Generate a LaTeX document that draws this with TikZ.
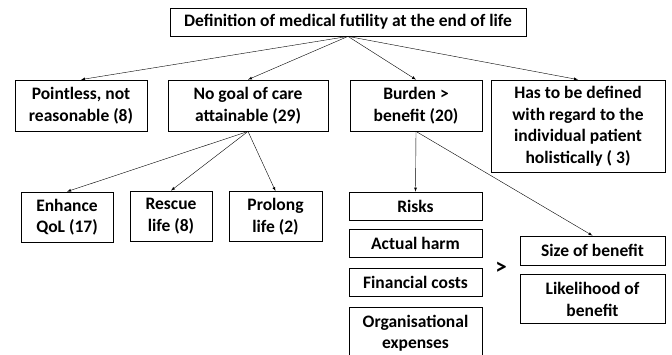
\documentclass[tikz,border=0pt]{standalone}
\usepackage{fontspec}
\setmainfont{Carlito}
\usetikzlibrary{positioning}
\usetikzlibrary{arrows}

\begin{document}
\begin{tikzpicture}[x=1pt,y=-1pt,>=latex,
    basic/.style={draw,line width=0.8pt,align=center,inner sep=0pt,
        font=\fontsize{17.5}{21.5}\selectfont\bfseries},
    headbox/.style={basic,minimum width=356pt,minimum height=28pt},
    reason/.style={basic,minimum height=51pt},
    goal/.style={basic,minimum height=50pt},
    cost/.style={basic,minimum width=133pt,minimum height=28pt},
    gain/.style={basic,minimum width=145pt},
]
        \useasboundingbox (0,0) rectangle (672,354);
        \node[headbox] (def) at (348,22) {Definition of medical futility at the end of life};
        % reasons
        \node[reason,minimum width=132pt] (pointless) at (81,105.5) {Pointless, not\\reasonable (8)};
        \node[reason,minimum width=160pt] (nogoal) at (248,105.5) {No goal of care\\attainable (29)};
        \node[reason,minimum width=132pt] (burden) at (416,105.5) {Burden >\\benefit (20)};
        \node[basic,minimum width=174pt,minimum height=92pt] (holistic) at (578,126) {Has to be defined\\with regard to the\\individual patient\\holistically ( 3)};
            \path[draw,->] (def.south) -- (pointless.north);
            \path[draw,->] (def.south) -- (nogoal.north);
            \path[draw,->] (def.south) -- (burden.north);
            \path[draw,->] (def.south) -- (holistic.north);
        % goals of care
        \node[goal,minimum width=92pt] (enhance) at (67,217) {Enhance\\QoL (17)};
        \node[goal,minimum width=82pt] (rescue) at (171,216) {Rescue\\life (8)};
        \node[goal,minimum width=93pt] (prolong) at (275.5,216.5) {Prolong\\life (2)};
            \path[draw,->] (nogoal.south) -- (enhance.north);
            \path[draw,->] (nogoal.south) -- (rescue.north);
            \path[draw,->] (nogoal.south) -- (prolong.north);
        % burden
        \node[cost] (risks) at (415.5,206) {Risks};
        \node[cost,below=9pt of risks] (harm) {Actual harm};
        \node[cost,below=10pt of harm] (costs) {Financial costs};
        \node[cost,minimum height=52pt,below=10pt of costs] (expenses) {Organisational\\expenses};
        % benefit
        \node[gain,minimum height=29pt] (size) at (592.5,250.5) {Size of benefit};
        \node[gain,minimum height=49pt,below=9pt of size] (likely) {Likelihood of\\benefit};
        \node[font=\fontsize{23}{26}\selectfont\bfseries] (gt) at (501,268) {>};
            \path[draw,->] (burden.south) -- (risks.north);
            \path[draw,->] (burden.south) -- (size.north);
\end{tikzpicture}
\end{document}
